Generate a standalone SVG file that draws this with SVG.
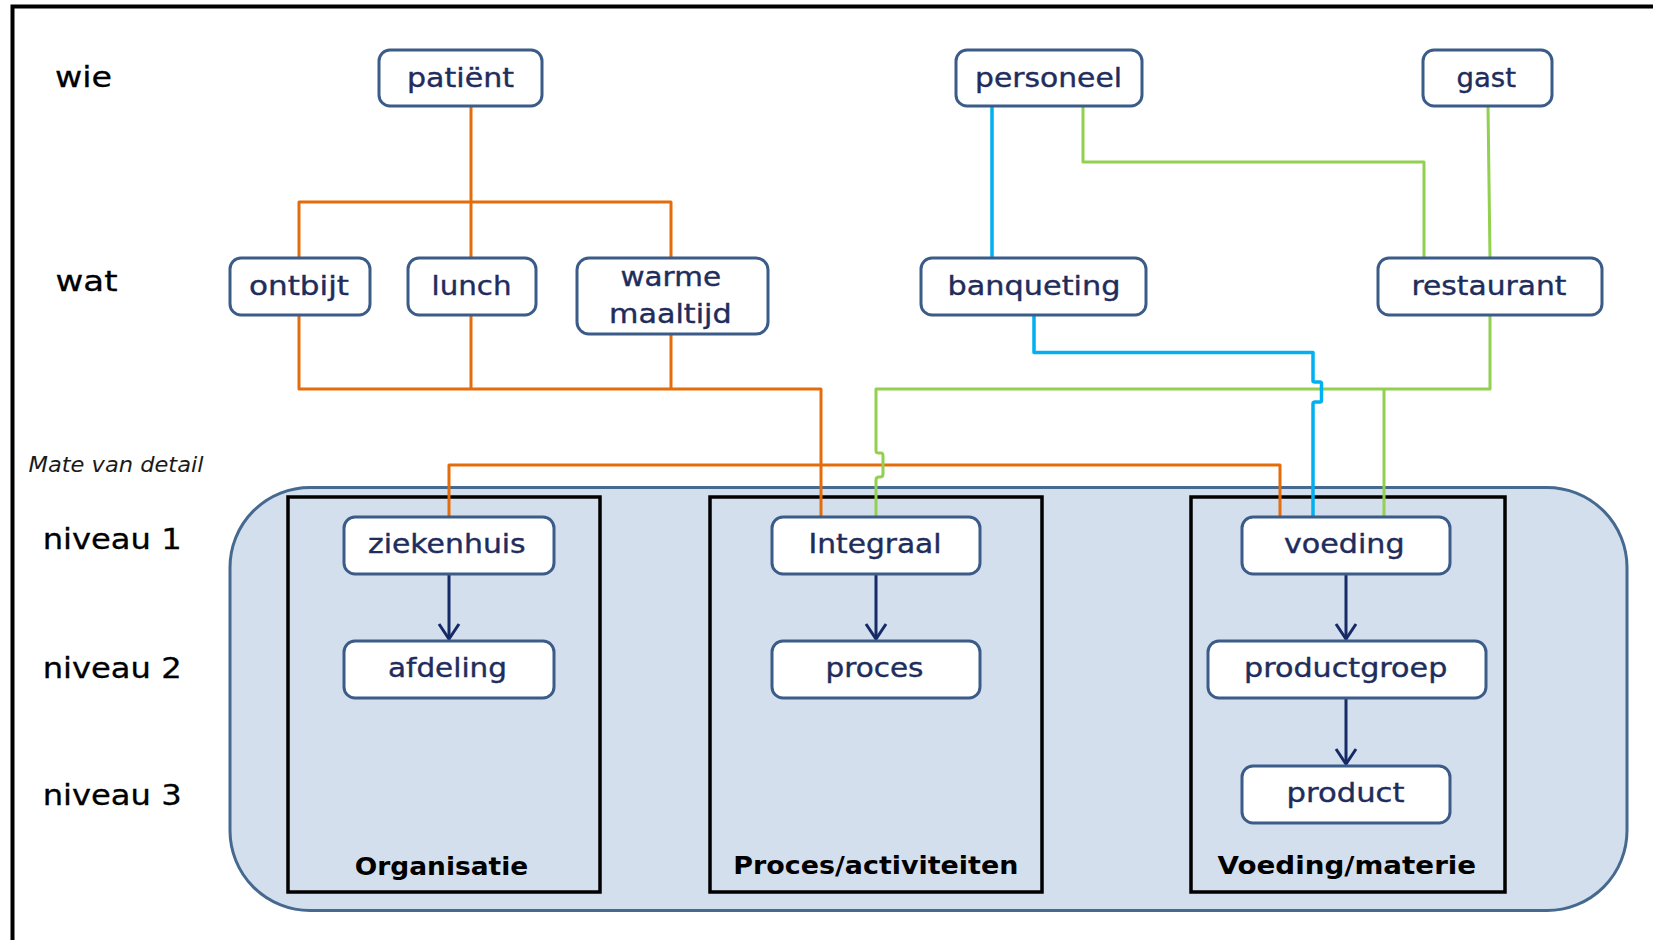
<svg xmlns="http://www.w3.org/2000/svg" width="1653" height="940" viewBox="0 0 1653 940">
<style>
.node rect{fill:#ffffff;stroke:#3B5C88;stroke-width:3}
.nt{font-family:"DejaVu Sans","Liberation Sans",sans-serif;font-size:27px;fill:#1F2D5C;stroke:#1F2D5C;stroke-width:0.4}
.lbl{font-family:"DejaVu Sans","Liberation Sans",sans-serif;font-size:28px;fill:#000000;stroke:#000000;stroke-width:0.3}
.ital{font-family:"DejaVu Sans","Liberation Sans",sans-serif;font-size:22px;font-style:italic;fill:#1a1a1a}
.ttl{font-family:"DejaVu Sans","Liberation Sans",sans-serif;font-size:25px;font-weight:bold;fill:#000000}
.frame{fill:none;stroke:#000000;stroke-width:3.5}
.c{fill:none;stroke-width:3;stroke-linejoin:round}
.or{stroke:#E46C0A}
.gr{stroke:#92D050}
.bl{stroke:#00B0F0;stroke-width:3.5}
.ar{fill:none;stroke:#152A66;stroke-width:3}
</style>
<defs>
<marker id="arr" markerUnits="userSpaceOnUse" viewBox="-17 -12 19 24" markerWidth="19" markerHeight="24" refX="0" refY="0" orient="auto">
<path d="M-15,-10 L0,0 L-15,10" fill="none" stroke="#152A66" stroke-width="3" stroke-linejoin="miter"/>
</marker>
</defs>
<rect x="0" y="0" width="1653" height="940" fill="#ffffff"/>
<rect x="12.5" y="6.5" width="1700" height="1000" fill="none" stroke="#000000" stroke-width="4"/>

<g id="background">
<rect x="230" y="487.5" width="1397" height="423" rx="80" ry="80" fill="#D4DFEE" stroke="#46698F" stroke-width="3"/>
</g>

<g id="frame-organisatie">
<rect class="frame" x="288" y="497" width="312" height="395"/>
<text class="ttl" x="354.7" y="875" textLength="173.6" lengthAdjust="spacingAndGlyphs">Organisatie</text>
</g>
<g id="frame-proces">
<rect class="frame" x="710" y="497" width="332" height="395"/>
<text class="ttl" x="733.3" y="873.5" textLength="285" lengthAdjust="spacingAndGlyphs">Proces/activiteiten</text>
</g>
<g id="frame-voeding">
<rect class="frame" x="1191" y="497" width="314" height="395"/>
<text class="ttl" x="1217.5" y="873.5" textLength="258.7" lengthAdjust="spacingAndGlyphs">Voeding/materie</text>
</g>

<g id="labels">
<text class="lbl" x="55" y="87" textLength="57" lengthAdjust="spacingAndGlyphs">wie</text>
<text class="lbl" x="55.5" y="291" textLength="62" lengthAdjust="spacingAndGlyphs">wat</text>
<text class="ital" x="28.5" y="471.5" textLength="175" lengthAdjust="spacingAndGlyphs">Mate van detail</text>
<text class="lbl" x="42.7" y="549" textLength="139" lengthAdjust="spacingAndGlyphs">niveau 1</text>
<text class="lbl" x="42.7" y="677.5" textLength="139" lengthAdjust="spacingAndGlyphs">niveau 2</text>
<text class="lbl" x="42.7" y="805" textLength="139" lengthAdjust="spacingAndGlyphs">niveau 3</text>
</g>

<g id="connectors">
<path class="c or" d="M471,106 V202"/>
<path class="c or" d="M299,258 V202 H671 V258"/>
<path class="c or" d="M471,202 V258"/>
<path class="c or" d="M299,315 V389 H821 V517"/>
<path class="c or" d="M471,315 V389"/>
<path class="c or" d="M671,334 V389"/>
<path class="c or" d="M449,517 V465 H1280 V517"/>
<path class="c gr" d="M1083,106 V162 H1424 V258"/>
<path class="c gr" d="M1488,106 L1490,258"/>
<path class="c gr" d="M1490,315 V389 H876 V451 Q876,453 879,453 L881,453 Q883,453 883,456 V474 Q883,477 880,477 L879,477 Q876,477 876,480 V517"/>
<path class="c gr" d="M1384,389 V517"/>
<path class="c bl" d="M992,106 V258"/>
<path class="c bl" d="M1034,315 V352.5 H1313 V381 Q1313,382 1315,382 L1320,382 Q1321.5,382 1321.5,384 V400 Q1321.5,402 1320,402 L1315,402 Q1313,402 1313,404 V517"/>
<path class="ar" d="M449,574 V639" marker-end="url(#arr)"/>
<path class="ar" d="M876,574 V639" marker-end="url(#arr)"/>
<path class="ar" d="M1346,574 V639" marker-end="url(#arr)"/>
<path class="ar" d="M1346,698 V764" marker-end="url(#arr)"/>
</g>

<g id="node-patient" class="node"><rect x="379" y="50" width="163" height="56" rx="11"/><text class="nt" x="407" y="87" textLength="107" lengthAdjust="spacingAndGlyphs">patiënt</text></g>
<g id="node-personeel" class="node"><rect x="956" y="50" width="186" height="56" rx="11"/><text class="nt" x="975" y="87" textLength="147" lengthAdjust="spacingAndGlyphs">personeel</text></g>
<g id="node-gast" class="node"><rect x="1423" y="50" width="129" height="56" rx="11"/><text class="nt" x="1456.5" y="87" textLength="59.5" lengthAdjust="spacingAndGlyphs">gast</text></g>
<g id="node-ontbijt" class="node"><rect x="230" y="258" width="140" height="57" rx="11"/><text class="nt" x="249" y="295" textLength="100" lengthAdjust="spacingAndGlyphs">ontbijt</text></g>
<g id="node-lunch" class="node"><rect x="408" y="258" width="128" height="57" rx="11"/><text class="nt" x="431.5" y="295" textLength="80" lengthAdjust="spacingAndGlyphs">lunch</text></g>
<g id="node-warme-maaltijd" class="node"><rect x="577" y="258" width="191" height="76" rx="12"/><text class="nt" x="620.5" y="286" textLength="100.5" lengthAdjust="spacingAndGlyphs">warme</text><text class="nt" x="609" y="322.5" textLength="122.6" lengthAdjust="spacingAndGlyphs">maaltijd</text></g>
<g id="node-banqueting" class="node"><rect x="921" y="258" width="225" height="57" rx="11"/><text class="nt" x="947.5" y="295" textLength="173" lengthAdjust="spacingAndGlyphs">banqueting</text></g>
<g id="node-restaurant" class="node"><rect x="1378" y="258" width="224" height="57" rx="11"/><text class="nt" x="1411.5" y="295" textLength="155" lengthAdjust="spacingAndGlyphs">restaurant</text></g>
<g id="node-ziekenhuis" class="node"><rect x="344" y="517" width="210" height="57" rx="11"/><text class="nt" x="368" y="553.3" textLength="157.7" lengthAdjust="spacingAndGlyphs">ziekenhuis</text></g>
<g id="node-afdeling" class="node"><rect x="344" y="641" width="210" height="57" rx="11"/><text class="nt" x="388" y="677.3" textLength="119" lengthAdjust="spacingAndGlyphs">afdeling</text></g>
<g id="node-integraal" class="node"><rect x="772" y="517" width="208" height="57" rx="11"/><text class="nt" x="808.5" y="553.3" textLength="133" lengthAdjust="spacingAndGlyphs">Integraal</text></g>
<g id="node-proces" class="node"><rect x="772" y="641" width="208" height="57" rx="11"/><text class="nt" x="825.5" y="677.3" textLength="98" lengthAdjust="spacingAndGlyphs">proces</text></g>
<g id="node-voeding" class="node"><rect x="1242" y="517" width="208" height="57" rx="11"/><text class="nt" x="1284" y="553.3" textLength="120.5" lengthAdjust="spacingAndGlyphs">voeding</text></g>
<g id="node-productgroep" class="node"><rect x="1208" y="641" width="278" height="57" rx="11"/><text class="nt" x="1244" y="677.3" textLength="203.3" lengthAdjust="spacingAndGlyphs">productgroep</text></g>
<g id="node-product" class="node"><rect x="1242" y="766" width="208" height="57" rx="11"/><text class="nt" x="1286.5" y="801.7" textLength="118" lengthAdjust="spacingAndGlyphs">product</text></g>
</svg>
